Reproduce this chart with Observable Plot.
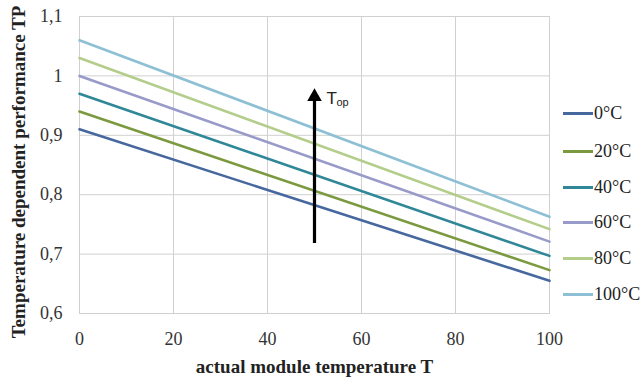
<!DOCTYPE html>
<html><head><meta charset="utf-8">
<script src="https://cdn.jsdelivr.net/npm/d3@7"></script>
<script src="https://cdn.jsdelivr.net/npm/@observablehq/plot@0.6"></script>
<style>
body{margin:0;background:#fff;}
#wrap{position:relative;width:644px;height:379px;}
#legend{position:absolute;left:563px;top:0;font-family:"Liberation Serif",serif;font-size:18px;color:#222;}
.li{position:absolute;left:0;display:flex;align-items:center;white-space:nowrap;}
.sw{width:30px;height:3px;margin-right:1px;}
</style></head>
<body><div id="wrap"><div id="legend"></div></div>
<script>
const series = ["0°C","20°C","40°C","60°C","80°C","100°C"];
const colors = ["#47689e","#7b9a40","#2f8797","#989bc9","#b3cd8a","#8ec0d5"];
const xs = [0, 100];
const startValues = [0.91, 0.94, 0.97, 1.0, 1.03, 1.06];
const endValues = [0.655, 0.673, 0.697, 0.721, 0.742, 0.763];
const xTicks = [0,20,40,60,80,100];
const yTicks = [0.6,0.7,0.8,0.9,1.0,1.1];
const arrowData = [{x:50, y1:0.718, y2:0.962}];
const arrowHead = [{x:50, y:0.965}];

const rows = [];
series.forEach((s,i)=>{
  rows.push({s, x: xs[0], y: startValues[i]});
  rows.push({s, x: xs[1], y: endValues[i]});
});
const fmt = d => String(Number(d.toFixed(1))).replace(".", ",");
const serif = "'Liberation Serif', 'Times New Roman', serif";
const sans = "'Liberation Sans', Arial, sans-serif";

const chart = Plot.plot({
  width: 644, height: 379,
  marginLeft: 79, marginRight: 95, marginTop: 16, marginBottom: 66,
  style: {fontFamily: serif, fontSize: "18px", color: "#333", background: "#fff"},
  x: {domain: [0,100], ticks: xTicks},
  y: {domain: [0.6,1.1], ticks: yTicks},
  color: {domain: series, range: colors},
  marks: [
    Plot.gridX(xTicks, {stroke: "#d0d0d0", strokeOpacity: 1}),
    Plot.gridY(yTicks, {stroke: "#d0d0d0", strokeOpacity: 1}),
    Plot.frame({stroke: "#d0d0d0"}),
    Plot.axisX(xTicks, {tickSize: 0, tickPadding: 19, label: null, fontFamily: serif, fontSize: 18, fill: "#333"}),
    Plot.axisY(yTicks, {tickSize: 0, tickPadding: 17, label: null, tickFormat: fmt, fontFamily: serif, fontSize: 18, fill: "#333"}),
    Plot.line(rows, {x: "x", y: "y", z: "s", stroke: "s", strokeWidth: 2.6}),
    Plot.ruleX(arrowData, {x: "x", y1: "y1", y2: "y2", stroke: "#000", strokeWidth: 3.2}),
    Plot.dot(arrowHead, {x: "x", y: "y", symbol: "triangle", r: 5.4, fill: "#000", stroke: "none"}),
    Plot.text(["T"], {x: 50, y: 0.962, dx: 12, text: d => d, textAnchor: "start", fontFamily: sans, fontSize: 17, fill: "#222"}),
    Plot.text(["op"], {x: 50, y: 0.962, dx: 22, dy: 4, text: d => d, textAnchor: "start", fontFamily: sans, fontSize: 11, fill: "#222"}),
    Plot.text(["actual module temperature T"], {frameAnchor: "bottom", lineAnchor: "middle", dy: 53, text: d => d, fontFamily: serif, fontWeight: "bold", fontSize: 19, fill: "#222"}),
    Plot.text(["Temperature dependent performance TP"], {frameAnchor: "left", textAnchor: "middle", dx: -61, dy: 7, rotate: -90, text: d => d, fontFamily: serif, fontWeight: "bold", fontSize: 19, fill: "#222"})
  ]
});
const wrap = document.getElementById("wrap");
wrap.insertBefore(chart, wrap.firstChild);

const legendTops = [113,151,187,222,258,294];
const lg = document.getElementById("legend");
series.forEach((s,i)=>{
  const d = document.createElement("div");
  d.className = "li";
  d.style.top = (legendTops[i]-11) + "px";
  d.style.height = "22px";
  d.innerHTML = `<span class="sw" style="background:${colors[i]}"></span><span>${s}</span>`;
  lg.appendChild(d);
});
</script></body></html>
